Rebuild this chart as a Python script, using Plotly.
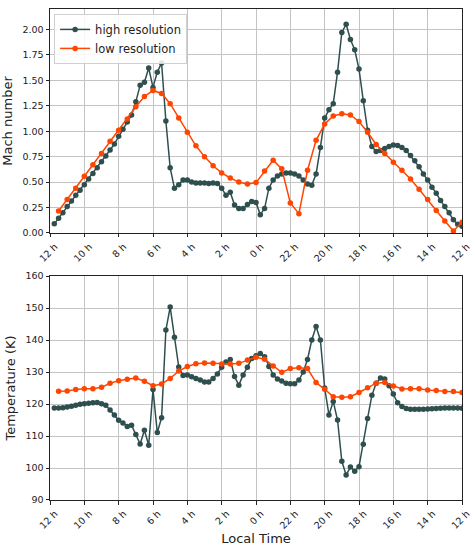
import numpy as np
import plotly.graph_objects as go
from plotly.subplots import make_subplots

# ---- data ----
tick_vals = [0, 2, 4, 6, 8, 10, 12, 14, 16, 18, 20, 22, 24]
tick_text = ["12 h", "10 h", "8 h", "6 h", "4 h", "2 h", "0 h",
             "22 h", "20 h", "18 h", "16 h", "14 h", "12 h"]

hi_step = 0.25  # hours between high-resolution samples
lo_step = 0.5   # hours between low-resolution samples

mach_high = [
    0.09, 0.145, 0.20, 0.26, 0.315, 0.37, 0.42, 0.475, 0.53, 0.585,
    0.64, 0.70, 0.755, 0.815, 0.875, 0.95, 1.02, 1.09, 1.16, 1.29,
    1.45, 1.48, 1.62, 1.43, 1.58, 1.67, 1.10, 0.64, 0.44, 0.475,
    0.52, 0.52, 0.50, 0.49, 0.49, 0.49, 0.485, 0.49, 0.485, 0.44,
    0.37, 0.40, 0.275, 0.24, 0.24, 0.28, 0.31, 0.30, 0.18, 0.24,
    0.44, 0.52, 0.56, 0.58, 0.59, 0.59, 0.58, 0.56, 0.52, 0.48,
    0.47, 0.58, 0.84, 1.13, 1.21, 1.27, 1.58, 1.97, 2.05, 1.90,
    1.80, 1.61, 1.30, 1.01, 0.85, 0.80, 0.81, 0.83, 0.85, 0.865,
    0.86, 0.84, 0.81, 0.76, 0.71, 0.65, 0.58, 0.52, 0.45, 0.39,
    0.32, 0.26, 0.20, 0.13, 0.085, 0.066,
]
mach_low = [
    0.216, 0.33, 0.44, 0.557, 0.67, 0.78, 0.90, 1.01, 1.12, 1.24,
    1.34, 1.40, 1.37, 1.27, 1.13, 0.99, 0.856, 0.75, 0.66, 0.59,
    0.54, 0.50, 0.48, 0.495, 0.61, 0.715, 0.63, 0.295, 0.19, 0.616,
    0.91, 1.07, 1.15, 1.17, 1.16, 1.095, 0.99, 0.87, 0.78, 0.695,
    0.616, 0.53, 0.43, 0.33, 0.22, 0.118, 0.02, 0.105,
]
temp_high = [
    118.75, 118.75, 118.85, 119.05, 119.3, 119.6, 119.9, 120.1, 120.2, 120.4,
    120.5, 120.1, 119.6, 118.1, 116.6, 114.9, 114.1, 113.0, 113.4, 110.5,
    107.5, 111.8, 107.1, 124.5, 111.1, 115.7, 143.1, 150.3, 140.9, 131.6,
    128.9, 129.1, 128.5, 128.0, 127.5, 126.9, 126.9, 128.0, 129.4, 131.5,
    133.1, 133.9, 128.6, 125.9, 129.1, 131.5, 134.2, 135.1, 135.8, 134.8,
    131.7, 129.1, 127.8, 127.2, 126.5, 126.3, 126.3, 127.5, 130.0, 133.9,
    140.0, 144.2, 140.0, 125.0, 116.6, 120.8, 115.0, 102.1, 97.8, 100.3,
    99.0, 100.4, 107.4, 115.5, 122.7, 126.5, 128.1, 127.8, 125.7, 123.1,
    120.4, 119.2, 118.6, 118.4, 118.4, 118.4, 118.4, 118.45, 118.5, 118.6,
    118.7, 118.75, 118.75, 118.75, 118.75, 118.7,
]
temp_low = [
    124.0, 124.1, 124.5, 124.8, 124.8, 125.2, 126.5, 127.3, 127.7, 128.1,
    127.1, 125.7, 126.25, 128.0, 130.3, 131.7, 132.6, 132.8, 132.7, 132.5,
    132.5, 132.7, 133.75, 134.6, 134.0, 131.9, 129.9, 131.1, 131.3, 131.1,
    126.7, 124.6, 122.3, 122.1, 122.3, 123.6, 125.1, 126.5, 126.7, 125.6,
    124.7, 124.8, 124.8, 124.4, 124.2, 123.9, 123.9, 123.6,
]

x_high = hi_step * np.arange(1, len(mach_high) + 1)
x_low = lo_step * np.arange(1, len(mach_low) + 1)

DARK = "#2F4F4F"
ORANGE = "#FF4500"
FONT = "DejaVu Sans"

fig = make_subplots(rows=2, cols=1, shared_xaxes=False, vertical_spacing=0.0)

def add(x, y, color, name, row, show):
    fig.add_trace(go.Scatter(
        x=x, y=y, mode="lines+markers", name=name, showlegend=show,
        line=dict(color=color, width=1.5),
        marker=dict(color=color, size=5.5),
    ), row=row, col=1)

add(x_high, mach_high, DARK, "high resolution", 1, True)
add(x_low, mach_low, ORANGE, "low resolution", 1, True)
add(x_high, temp_high, DARK, "high resolution", 2, False)
add(x_low, temp_low, ORANGE, "low resolution", 2, False)

axis_common = dict(
    showline=True, linecolor="#222", linewidth=1, mirror=True,
    showgrid=True, gridcolor="#c4c4c4", gridwidth=1,
    ticks="outside", ticklen=3.5, tickwidth=1, tickcolor="#222",
    tickfont=dict(family=FONT, size=9.5, color="#222"),
    zeroline=False, automargin=False,
)

for r in (1, 2):
    fig.update_xaxes(
        range=[0, 24], tickvals=tick_vals, ticktext=tick_text,
        tickangle=-45, ticklabelshift=5, ticklabeloverflow="allow",
        **axis_common, row=r, col=1)

fig.update_xaxes(title=dict(text="Local Time", font=dict(family=FONT, size=13, color="#222"),
                            standoff=4), row=2, col=1)

fig.update_yaxes(range=[0, 2.2], tickvals=[0, 0.25, 0.5, 0.75, 1.0, 1.25, 1.5, 1.75, 2.0],
                 tickformat=".2f",
                 title=dict(text="Mach number", font=dict(family=FONT, size=13, color="#222"),
                            standoff=6),
                 **axis_common, row=1, col=1)
fig.update_yaxes(range=[90, 160], tickvals=[90, 100, 110, 120, 130, 140, 150, 160],
                 title=dict(text="Temperature (K)", font=dict(family=FONT, size=13, color="#222"),
                            standoff=6),
                 **axis_common, row=2, col=1)

fig.update_layout(
    width=472, height=550,
    margin=dict(l=50, r=10, t=9, b=50, autoexpand=False),
    plot_bgcolor="white", paper_bgcolor="white",
    font=dict(family=FONT, color="#222"),
    yaxis=dict(domain=[0.5438, 1.0]),
    yaxis2=dict(domain=[0.0, 0.4562]),
    legend=dict(
        x=0.01, y=0.99, xanchor="left", yanchor="top",
        bgcolor="rgba(255,255,255,0.85)", bordercolor="#d0d0d0", borderwidth=1,
        font=dict(family=FONT, size=11.5, color="#222"),
        itemwidth=30, tracegroupgap=0,
    ),
)

fig.write_html("out.html")
